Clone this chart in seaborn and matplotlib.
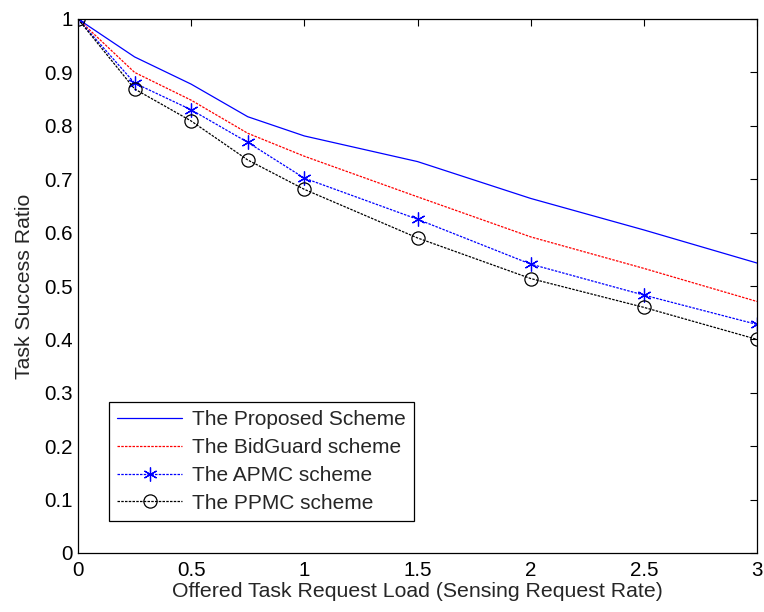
import matplotlib
matplotlib.use("Agg")
import matplotlib.pyplot as plt
import seaborn as sns
import pandas as pd

x_load = [0, 0.25, 0.5, 0.75, 1, 1.5, 2, 2.5, 3]
proposed = [1.0, 0.929, 0.878, 0.817, 0.781, 0.733, 0.664, 0.605, 0.543]
bidguard = [1.0, 0.900, 0.848, 0.786, 0.743, 0.667, 0.592, 0.533, 0.471]
apmc = [1.0, 0.880, 0.830, 0.769, 0.702, 0.625, 0.541, 0.483, 0.428]
ppmc = [1.0, 0.869, 0.809, 0.736, 0.681, 0.590, 0.514, 0.460, 0.400]
labels = ["The Proposed Scheme", "The BidGuard scheme", "The APMC scheme", "The PPMC scheme"]
x_ticks = [0, 0.5, 1, 1.5, 2, 2.5, 3]
x_ticklabels = ["0", "0.5", "1", "1.5", "2", "2.5", "3"]
y_ticks = [0, 0.1, 0.2, 0.3, 0.4, 0.5, 0.6, 0.7, 0.8, 0.9, 1]
y_ticklabels = ["0", "0.1", "0.2", "0.3", "0.4", "0.5", "0.6", "0.7", "0.8", "0.9", "1"]

sns.set_theme(style="white")
plt.rcParams['font.family'] = ['Liberation Sans', 'DejaVu Sans']

fig = plt.figure(figsize=(7.64, 6.12), dpi=100)
ax = fig.add_axes([78/764, 1-553/612, (757-78)/764, (553-19)/612])

styles = [
    dict(color="#0000ff", linestyle="-", marker=None, lw=0.9),
    dict(color="#ff0000", linestyle=(0, (2, 1)), marker=None, lw=0.9),
    dict(color="#0000ff", linestyle=(0, (2, 1)), marker="*", lw=0.9),
    dict(color="#000000", linestyle=(0, (2, 1)), marker="o", lw=0.9),
]
series = [proposed, bidguard, apmc, ppmc]
for vals, lab, st in zip(series, labels, styles):
    df = pd.DataFrame({"x": x_load, "y": vals})
    kw = {}
    if st["marker"] == "*":
        kw = dict(marker=(6, 2, 0), markersize=10, markeredgewidth=0.9,
                  markeredgecolor="#0000ff", markerfacecolor="none")
    elif st["marker"] == "o":
        kw = dict(marker="o", markersize=9.5, markeredgewidth=0.9,
                  markeredgecolor="black", markerfacecolor="none")
    sns.lineplot(data=df, x="x", y="y", ax=ax, color=st["color"],
                 linestyle=st["linestyle"], linewidth=st["lw"], label=lab, **kw)

ax.set_xlim(0, 3)
ax.set_ylim(0, 1)
ax.set_xticks(x_ticks)
ax.set_xticklabels(x_ticklabels)
ax.set_yticks(y_ticks)
ax.set_yticklabels(y_ticklabels)
ax.tick_params(direction="in", length=5, width=0.8, top=True, right=True,
               labelsize=14.8, colors="black")
ax.tick_params(axis="x", pad=6)
ax.tick_params(axis="y", pad=4)
for s in ax.spines.values():
    s.set_visible(True)
    s.set_color("black")
    s.set_linewidth(0.9)
ax.set_xlabel("Offered Task Request Load (Sensing Request Rate)", fontsize=15.3, labelpad=1)
ax.set_ylabel("Task Success Ratio", fontsize=15.3, labelpad=7)

leg = ax.legend(loc="lower left", bbox_to_anchor=(0.0457, 0.06), fontsize=15,
                frameon=True, fancybox=False, edgecolor="black", framealpha=1,
                handlelength=3.1, borderpad=0.4, labelspacing=0.42, handletextpad=0.5,
                borderaxespad=0)
leg.get_frame().set_linewidth(0.9)

fig.savefig("out.png", dpi=100)
